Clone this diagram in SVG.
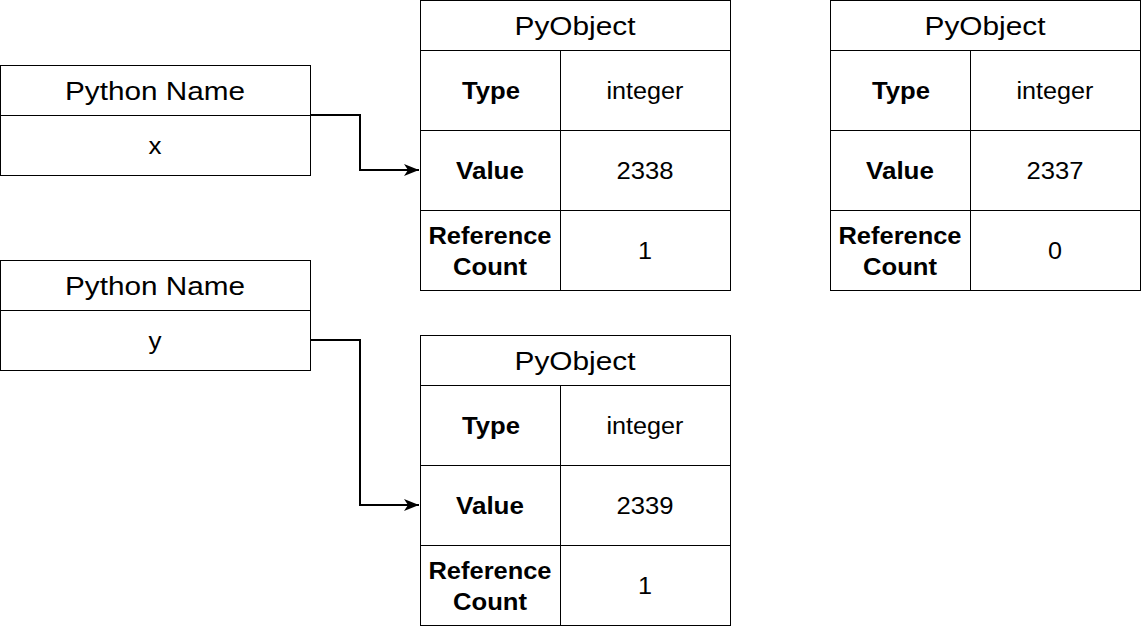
<svg xmlns="http://www.w3.org/2000/svg" width="1141" height="626" viewBox="0 0 1141 626">
<defs>
<style>
.box{fill:#fff;stroke:#000;stroke-width:1}
.ln{stroke:#000;stroke-width:1;fill:none}
.h{font-family:"Liberation Sans",Arial,sans-serif;font-size:26px;text-anchor:middle;fill:#000}
.t{font-family:"Liberation Sans",Arial,sans-serif;font-size:23px;text-anchor:middle;fill:#000}
.b{font-family:"Liberation Sans",Arial,sans-serif;font-size:23px;font-weight:bold;text-anchor:middle;fill:#000}
.edge{stroke:#000;stroke-width:2;fill:none}
</style>
<marker id="arr" markerWidth="16" markerHeight="12" viewBox="0 0 16 12" refX="15" refY="6" orient="auto" markerUnits="userSpaceOnUse">
<path d="M0,0 L15,6 L0,12 L4,6 Z" fill="#000"/>
</marker>
</defs>
<g id="nameX">
<rect class="box" x="0.5" y="65.5" width="310" height="110"/>
<line class="ln" x1="0.5" y1="115.5" x2="310.5" y2="115.5"/>
<text class="h" x="155" y="100" textLength="180" lengthAdjust="spacingAndGlyphs">Python Name</text>
<text class="t" x="155" y="154" textLength="13" lengthAdjust="spacingAndGlyphs">x</text>
</g>
<g id="nameY">
<rect class="box" x="0.5" y="260.5" width="310" height="110"/>
<line class="ln" x1="0.5" y1="310.5" x2="310.5" y2="310.5"/>
<text class="h" x="155" y="295" textLength="180" lengthAdjust="spacingAndGlyphs">Python Name</text>
<text class="t" x="155" y="349" textLength="13" lengthAdjust="spacingAndGlyphs">y</text>
</g>
<g id="obj2338">
<rect class="box" x="420.5" y="0.5" width="310" height="290"/>
<line class="ln" x1="420.5" y1="50.5" x2="730.5" y2="50.5"/>
<line class="ln" x1="420.5" y1="130.5" x2="730.5" y2="130.5"/>
<line class="ln" x1="420.5" y1="210.5" x2="730.5" y2="210.5"/>
<line class="ln" x1="560.5" y1="50.5" x2="560.5" y2="290.5"/>
<text class="h" x="575" y="35" textLength="121" lengthAdjust="spacingAndGlyphs">PyObject</text>
<text class="b" x="491" y="99" textLength="58" lengthAdjust="spacingAndGlyphs">Type</text>
<text class="t" x="645" y="99" textLength="77" lengthAdjust="spacingAndGlyphs">integer</text>
<text class="b" x="490" y="179" textLength="68" lengthAdjust="spacingAndGlyphs">Value</text>
<text class="t" x="645" y="179" textLength="57" lengthAdjust="spacingAndGlyphs">2338</text>
<text class="b" x="490" y="244" textLength="123" lengthAdjust="spacingAndGlyphs">Reference</text>
<text class="b" x="490" y="275" textLength="74" lengthAdjust="spacingAndGlyphs">Count</text>
<text class="t" x="645" y="259" textLength="14" lengthAdjust="spacingAndGlyphs">1</text>
</g>
<g id="obj2337">
<rect class="box" x="830.5" y="0.5" width="310" height="290"/>
<line class="ln" x1="830.5" y1="50.5" x2="1140.5" y2="50.5"/>
<line class="ln" x1="830.5" y1="130.5" x2="1140.5" y2="130.5"/>
<line class="ln" x1="830.5" y1="210.5" x2="1140.5" y2="210.5"/>
<line class="ln" x1="970.5" y1="50.5" x2="970.5" y2="290.5"/>
<text class="h" x="985" y="35" textLength="121" lengthAdjust="spacingAndGlyphs">PyObject</text>
<text class="b" x="901" y="99" textLength="58" lengthAdjust="spacingAndGlyphs">Type</text>
<text class="t" x="1055" y="99" textLength="77" lengthAdjust="spacingAndGlyphs">integer</text>
<text class="b" x="900" y="179" textLength="68" lengthAdjust="spacingAndGlyphs">Value</text>
<text class="t" x="1055" y="179" textLength="57" lengthAdjust="spacingAndGlyphs">2337</text>
<text class="b" x="900" y="244" textLength="123" lengthAdjust="spacingAndGlyphs">Reference</text>
<text class="b" x="900" y="275" textLength="74" lengthAdjust="spacingAndGlyphs">Count</text>
<text class="t" x="1055" y="259" textLength="14" lengthAdjust="spacingAndGlyphs">0</text>
</g>
<g id="obj2339">
<rect class="box" x="420.5" y="335.5" width="310" height="290"/>
<line class="ln" x1="420.5" y1="385.5" x2="730.5" y2="385.5"/>
<line class="ln" x1="420.5" y1="465.5" x2="730.5" y2="465.5"/>
<line class="ln" x1="420.5" y1="545.5" x2="730.5" y2="545.5"/>
<line class="ln" x1="560.5" y1="385.5" x2="560.5" y2="625.5"/>
<text class="h" x="575" y="370" textLength="121" lengthAdjust="spacingAndGlyphs">PyObject</text>
<text class="b" x="491" y="434" textLength="58" lengthAdjust="spacingAndGlyphs">Type</text>
<text class="t" x="645" y="434" textLength="77" lengthAdjust="spacingAndGlyphs">integer</text>
<text class="b" x="490" y="514" textLength="68" lengthAdjust="spacingAndGlyphs">Value</text>
<text class="t" x="645" y="514" textLength="57" lengthAdjust="spacingAndGlyphs">2339</text>
<text class="b" x="490" y="579" textLength="123" lengthAdjust="spacingAndGlyphs">Reference</text>
<text class="b" x="490" y="610" textLength="74" lengthAdjust="spacingAndGlyphs">Count</text>
<text class="t" x="645" y="594" textLength="14" lengthAdjust="spacingAndGlyphs">1</text>
</g>
<g id="connectors">
<path class="edge" d="M311,115 L360,115 L360,170 L419,170" marker-end="url(#arr)"/>
<path class="edge" d="M311,340 L360,340 L360,505 L419,505" marker-end="url(#arr)"/>
</g>
</svg>
